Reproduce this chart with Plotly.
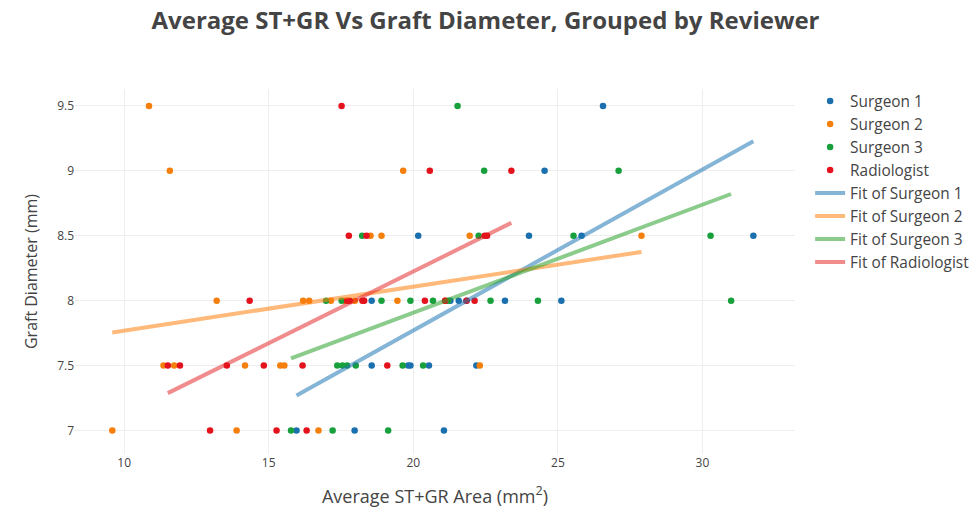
import plotly.graph_objects as go
import numpy as np

# ---- data ----
reviewers = ["Surgeon 1", "Surgeon 2", "Surgeon 3", "Radiologist"]

s1_area = [26.56, 24.54, 20.17, 24.0, 25.82, 31.76, 18.56, 21.28, 21.57, 21.84, 23.17, 25.12,
           18.56, 19.82, 19.9, 20.54, 22.18, 15.96, 17.97, 21.06]
s1_diam = [9.5, 9, 8.5, 8.5, 8.5, 8.5, 8, 8, 8, 8, 8, 8,
           7.5, 7.5, 7.5, 7.5, 7.5, 7, 7, 7]

s2_area = [10.86, 11.58, 19.65, 18.52, 18.9, 21.95, 27.89, 13.2, 16.19, 16.4, 17.15, 17.63,
           17.98, 19.45, 21.1, 11.36, 11.73, 14.18, 15.4, 15.54, 22.3, 9.59, 13.89, 16.72]
s2_diam = [9.5, 9, 9, 8.5, 8.5, 8.5, 8.5, 8, 8, 8, 8, 8,
           8, 8, 8, 7.5, 7.5, 7.5, 7.5, 7.5, 7.5, 7, 7, 7]

s3_area = [21.53, 22.45, 27.1, 18.23, 22.26, 25.54, 30.28, 16.98, 17.52, 18.9, 19.9, 20.68,
           21.2, 22.67, 24.31, 30.99, 17.37, 17.55, 17.71, 18.01, 19.63, 20.34, 15.77, 17.21, 19.13]
s3_diam = [9.5, 9, 9, 8.5, 8.5, 8.5, 8.5, 8, 8, 8, 8, 8,
           8, 8, 8, 8, 7.5, 7.5, 7.5, 7.5, 7.5, 7.5, 7, 7, 7]

rad_area = [17.52, 20.57, 23.39, 17.77, 18.38, 22.47, 22.55, 14.34, 17.71, 17.8, 18.24, 18.3,
            20.4, 21.1, 21.84, 22.12, 11.51, 11.93, 13.55, 14.83, 16.17, 19.1, 12.97, 15.27, 16.31]
rad_diam = [9.5, 9, 9, 8.5, 8.5, 8.5, 8.5, 8, 8, 8, 8, 8,
            8, 8, 8, 8, 7.5, 7.5, 7.5, 7.5, 7.5, 7.5, 7, 7, 7]

# linear fit parameters (slope, intercept)
fit_slopes = [0.1239, 0.0339, 0.0832, 0.1104]
fit_intercepts = [5.293, 7.430, 6.243, 6.017]

x_ticks = [10, 15, 20, 25, 30]
y_ticks = [7, 7.5, 8, 8.5, 9, 9.5]

# ---- styling ----
dot_colors = ["#1a70ae", "#f57f0c", "#18a03c", "#e3121c"]
fit_colors = ["rgba(31,119,180,0.55)", "rgba(255,127,14,0.55)",
              "rgba(44,160,44,0.55)", "rgba(228,26,28,0.5)"]

areas = [s1_area, s2_area, s3_area, rad_area]
diams = [s1_diam, s2_diam, s3_diam, rad_diam]

fig = go.Figure()
for name, xa, ya, c in zip(reviewers, areas, diams, dot_colors):
    fig.add_trace(go.Scatter(x=xa, y=ya, mode="markers", name=name,
                             marker=dict(color=c, size=6.5)))

for name, xa, m, b, c in zip(reviewers, areas, fit_slopes, fit_intercepts, fit_colors):
    xs = np.array([min(xa), max(xa)])
    fig.add_trace(go.Scatter(x=xs, y=m * xs + b, mode="lines", name="Fit of " + name,
                             line=dict(color=c, width=4)))

fig.update_layout(
    width=971, height=508,
    margin=dict(l=75, r=176, t=89, b=54, autoexpand=False),
    paper_bgcolor="white", plot_bgcolor="white",
    font=dict(family="Open Sans", color="#444", size=12),
    title=dict(text="<b>Average ST+GR Vs Graft Diameter, Grouped by Reviewer</b>",
               x=0.5, xref="container", xanchor="center", y=0.959, yref="container",
               yanchor="middle",
               font=dict(size=24, color="#444", family="Open Sans")),
    legend=dict(font=dict(size=15.4, color="#444"), x=1.021, y=1.0125, yanchor="top",
                tracegroupgap=0, itemwidth=30),
    showlegend=True,
)
fig.update_xaxes(range=[8.3, 33.2], tickvals=x_ticks, showgrid=True, gridcolor="#eeeeee",
                 zeroline=False, showline=False, automargin=False,
                 title=dict(text="Average ST+GR Area (mm<sup>2</sup>)", font=dict(size=18),
                            standoff=25))
fig.update_yaxes(range=[6.819, 9.63], tickvals=y_ticks, showgrid=True, gridcolor="#eeeeee",
                 zeroline=False, showline=False, automargin=False,
                 title=dict(text="Graft Diameter (mm)", font=dict(size=16)))

fig.write_html(
    "out.html",
    config={"displayModeBar": False},
    post_script="document.body.style.margin='0';document.body.style.overflow='hidden';",
)
